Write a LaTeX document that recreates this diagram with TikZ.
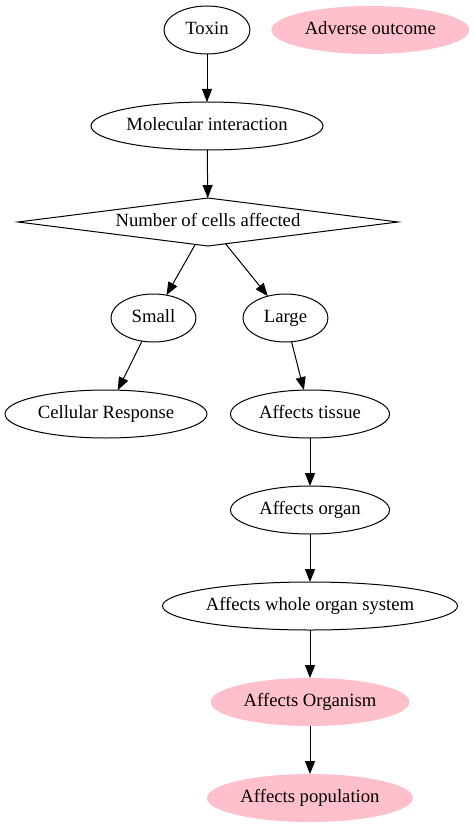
\documentclass[tikz,border=0pt]{standalone}
\usepackage{fontspec}
\setmainfont{Liberation Serif}
\definecolor{pinkfill}{RGB}{255,192,203}
\usetikzlibrary{shapes, arrows.meta, positioning}

\begin{document}
\begin{tikzpicture}[node distance=36pt, font=\fontsize{14pt}{16pt}\selectfont, line width=0.75pt,
    >={Triangle[length=9.75pt, width=7.5pt]},
    every node/.style={outer sep=0pt, text height=9.5pt, text depth=3pt},
    oval/.style={draw, ellipse, inner sep=0pt, minimum height=36pt},
    pinkoval/.style={ellipse, fill=pinkfill, inner sep=0pt, minimum height=36pt}]
        \useasboundingbox (0,0) rectangle (355.5pt,-620.25pt);
        \node[oval, minimum width=64.5pt] (toxin) at (155.25pt,-22.5pt) {Toxin};
        \node[pinkoval, right=16pt of toxin, minimum width=148.5pt] (adverse) {Adverse outcome};
        \node[oval, below=of toxin, minimum width=174pt] (molecular) {Molecular interaction};
        \node[draw, diamond, aspect=7.9, inner sep=0pt, below=of molecular, xshift=0.75pt, minimum width=285pt, minimum height=36pt] (cells) {Number of cells affected};
        \node[oval, below=of cells, xshift=-40.9pt, minimum width=63.75pt] (small) {Small};
        \node[oval, below=of cells, xshift=58.1pt, minimum width=63.75pt] (large) {Large};
        \node[oval, below=of small, xshift=-35.6pt, minimum width=151.5pt] (cellular) {Cellular Response};
        \node[oval, below=of large, xshift=18.4pt, minimum width=119.25pt] (tissue) {Affects tissue};
        \node[oval, below=of tissue, minimum width=119.25pt] (organ) {Affects organ};
        \node[oval, below=of organ, minimum width=221.25pt] (system) {Affects whole organ system};
        \node[pinkoval, below=of system, minimum width=149.25pt] (organism) {Affects Organism};
        \node[pinkoval, below=of organism, minimum width=154.5pt] (population) {Affects population};
        \draw[->] (toxin) -- (molecular);
        \draw[->] (molecular) -- (cells);
        \draw[->] (cells) -- (small);
        \draw[->] (cells) -- (large);
        \draw[->] (small) -- (cellular);
        \draw[->] (large) -- (tissue);
        \draw[->] (tissue) -- (organ);
        \draw[->] (organ) -- (system);
        \draw[->] (system) -- (organism);
        \draw[->] (organism) -- (population);
    \end{tikzpicture}
\end{document}
